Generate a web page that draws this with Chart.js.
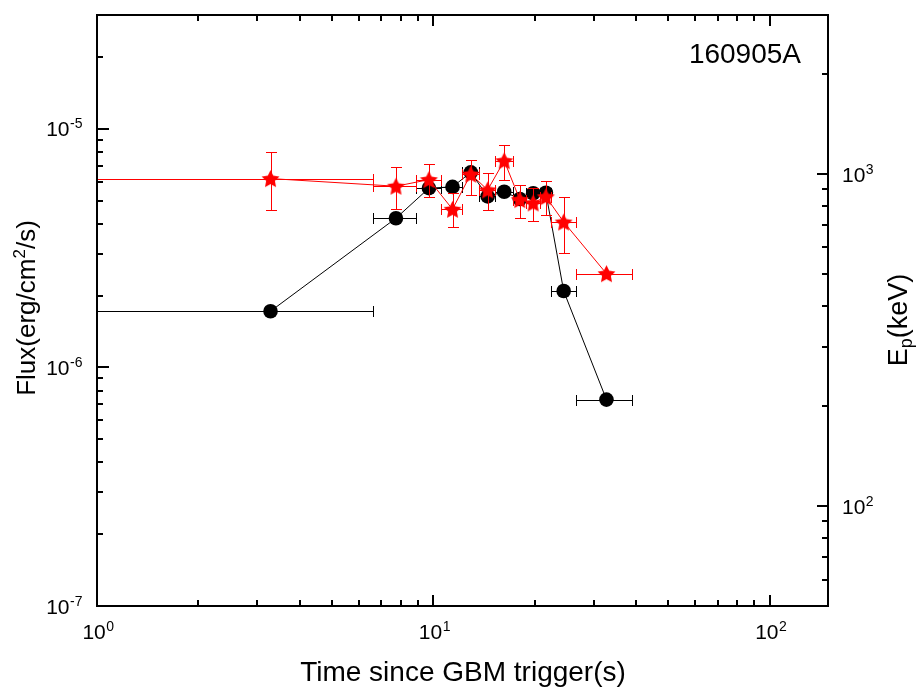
<!DOCTYPE html>
<html><head><meta charset="utf-8">
<script src="https://cdn.jsdelivr.net/npm/chart.js@4.4.0/dist/chart.umd.min.js"></script>
<style>html,body{margin:0;padding:0;background:#fff;}#wrap{width:917px;height:695px;}</style>
</head><body><div id="wrap"><canvas id="c" width="917" height="695"></canvas></div>
<script>
// ---------------- data ----------------
const burstName = '160905A';
const tMid   = [3.28, 7.74, 9.70, 11.4, 12.92, 14.5, 16.24, 18.07, 19.8, 21.6, 24.4, 32.7];
const tStart = [0, 6.6, 8.85, 10.55, 12.2, 13.7, 15.3, 17.2, 18.9, 20.7, 22.4, 26.5];
const tEnd   = [6.6, 8.85, 10.55, 12.2, 13.7, 15.3, 17.2, 18.9, 20.7, 22.4, 26.5, 39.0];
const flux   = [1.72e-6, 4.22e-6, 5.64e-6, 5.71e-6, 6.57e-6, 5.21e-6, 5.45e-6, 5.08e-6, 5.37e-6, 5.40e-6, 2.09e-6, 7.33e-7];
const ep     = [966, 916, 959, 781, 996, 893, 1093, 835, 816, 852, 715, 500];
const epLow  = [775, 784, 851, 690, 864, 777, 959, 735, 722, 752, 577, 500];
const epHigh = [1159, 1047, 1072, 872, 1102, 1007, 1223, 927, 906, 948, 851, 500];
const xTickLabels  = ['10^0', '10^1', '10^2'];
const yTickLabels  = ['10^-7', '10^-6', '10^-5'];
const y1TickLabels = ['10^2', '10^3'];
const xTitle = 'Time since GBM trigger(s)';
const yTitleParts = ['Flux(erg/cm', '2', '/s)'];
const y1TitleParts = ['E', 'p', '(keV)'];

const FONT = '"Liberation Sans", Arial, Helvetica, sans-serif';

function starImage(R, r, color) {
  const s = Math.ceil(R * 2 + 2);
  const c = document.createElement('canvas');
  c.width = s; c.height = s;
  const g = c.getContext('2d');
  g.translate(s / 2, s / 2 + R * 0.09);
  g.beginPath();
  for (let i = 0; i < 10; i++) {
    const rad = i % 2 ? r : R;
    const a = -Math.PI / 2 + i * Math.PI / 5;
    g.lineTo(rad * Math.cos(a), rad * Math.sin(a));
  }
  g.closePath();
  g.fillStyle = color;
  g.fill();
  return c;
}

function logTicks(min, max) {
  const out = [];
  for (let k = Math.floor(Math.log10(min)); k <= Math.ceil(Math.log10(max)); k++) {
    for (let m = 1; m <= 9; m++) {
      const v = Number((m * Math.pow(10, k)).toPrecision(12));
      if (v >= min * 0.9999 && v <= max * 1.0001) out.push({ v, major: m === 1 });
    }
  }
  return out;
}

function parseLabel(s) { const p = s.split('^'); return { base: p[0], sup: p[1] || '', value: Math.pow(10, Number(p[1])) }; }

const baseFont = '21px ' + FONT, supFont = '14px ' + FONT, RAISE = 8;
function supWidth(ctx, l) {
  ctx.font = baseFont; const wb = ctx.measureText(l.base).width;
  ctx.font = supFont; const ws = ctx.measureText(l.sup).width;
  return [wb, ws];
}
function drawSupLabel(ctx, l, x, baseline) {
  const [wb] = supWidth(ctx, l);
  ctx.textAlign = 'left'; ctx.textBaseline = 'alphabetic';
  ctx.font = baseFont; ctx.fillText(l.base, x, baseline);
  ctx.font = supFont; ctx.fillText(l.sup, x + wb + 0.5, baseline - RAISE);
}

const errorBars = {
  id: 'errorBars',
  beforeDatasetDraw(chart, args) {
    const ds = chart.data.datasets[args.index];
    const eb = ds.errorBars;
    if (!eb) return;
    const xs = chart.scales.x, ys = chart.scales[ds.yAxisID];
    const ctx = chart.ctx, a = chart.chartArea;
    ctx.save();
    ctx.beginPath(); ctx.rect(a.left, a.top, a.right - a.left, a.bottom - a.top); ctx.clip();
    ctx.strokeStyle = eb.color; ctx.lineWidth = 1;
    const cap = 5.5;
    const seg = (x0, y0, x1, y1) => { ctx.beginPath(); ctx.moveTo(x0, y0); ctx.lineTo(x1, y1); ctx.stroke(); };
    ds.data.forEach((p, i) => {
      const py = Math.round(ys.getPixelForValue(p.y)) + 0.5;
      const px = Math.round(xs.getPixelForValue(p.x)) + 0.5;
      const lo = eb.xLow[i], hi = eb.xHigh[i];
      const x0 = lo > 0 ? Math.round(xs.getPixelForValue(lo)) + 0.5 : a.left - 5;
      const x1 = Math.round(xs.getPixelForValue(hi)) + 0.5;
      seg(x0, py, x1, py);
      if (lo > 0) seg(x0, py - cap, x0, py + cap);
      seg(x1, py - cap, x1, py + cap);
      if (eb.yLow) {
        const y0 = Math.round(ys.getPixelForValue(eb.yLow[i])) + 0.5;
        const y1 = Math.round(ys.getPixelForValue(eb.yHigh[i])) + 0.5;
        if (Math.abs(y0 - y1) > 2) {
          seg(px, y0, px, y1);
          seg(px - cap, y0, px + cap, y0);
          seg(px - cap, y1, px + cap, y1);
        }
      }
    });
    ctx.restore();
  }
};

const frame = {
  id: 'frame',
  afterDraw(chart) {
    const ctx = chart.ctx, a = chart.chartArea;
    const xs = chart.scales.x, ys = chart.scales.y, y1s = chart.scales.y1;
    ctx.save();
    ctx.strokeStyle = '#000'; ctx.fillStyle = '#000'; ctx.lineWidth = 2;
    ctx.strokeRect(a.left, a.top, a.right - a.left, a.bottom - a.top);
    const seg = (x0, y0, x1, y1) => { ctx.beginPath(); ctx.moveTo(x0, y0); ctx.lineTo(x1, y1); ctx.stroke(); };
    logTicks(xs.min, xs.max).forEach(t => {
      const px = Math.round(xs.getPixelForValue(t.v));
      const len = t.major ? 11 : 6;
      seg(px, a.bottom, px, a.bottom - len);
      seg(px, a.top, px, a.top + len);
    });
    logTicks(ys.min, ys.max).forEach(t => {
      const py = Math.round(ys.getPixelForValue(t.v));
      seg(a.left, py, a.left + (t.major ? 12 : 6), py);
    });
    logTicks(y1s.min, y1s.max).forEach(t => {
      const py = Math.round(y1s.getPixelForValue(t.v));
      seg(a.right, py, a.right - (t.major ? 11 : 6), py);
    });
    // tick labels
    xTickLabels.map(parseLabel).forEach(l => {
      const px = xs.getPixelForValue(l.value);
      const [wb, ws] = supWidth(ctx, l);
      drawSupLabel(ctx, l, px - (wb + ws) / 2 + 1, a.bottom + 33);
    });
    yTickLabels.map(parseLabel).forEach(l => {
      const py = ys.getPixelForValue(l.value);
      const [wb, ws] = supWidth(ctx, l);
      drawSupLabel(ctx, l, a.left - 14 - wb - ws - 1, py + 7.5);
    });
    y1TickLabels.map(parseLabel).forEach(l => {
      const py = y1s.getPixelForValue(l.value);
      drawSupLabel(ctx, l, a.right + 14, py + 8);
    });
    // burst name
    ctx.font = '28px ' + FONT; ctx.textAlign = 'right'; ctx.textBaseline = 'alphabetic';
    ctx.fillText(burstName, 801, 63);
    // x title
    ctx.font = '28px ' + FONT; ctx.textAlign = 'center';
    ctx.fillText(xTitle, 463, 681);
    // left title
    ctx.save();
    ctx.translate(35, 308); ctx.rotate(-Math.PI / 2);
    ctx.font = '26px ' + FONT; const w0 = ctx.measureText(yTitleParts[0]).width, w2 = ctx.measureText(yTitleParts[2]).width;
    ctx.font = '17px ' + FONT; const w1 = ctx.measureText(yTitleParts[1]).width;
    let sx = -(w0 + w1 + w2) / 2;
    ctx.textAlign = 'left';
    ctx.font = '26px ' + FONT; ctx.fillText(yTitleParts[0], sx, 0);
    ctx.font = '17px ' + FONT; ctx.fillText(yTitleParts[1], sx + w0, -10);
    ctx.font = '26px ' + FONT; ctx.fillText(yTitleParts[2], sx + w0 + w1, 0);
    ctx.restore();
    // right title
    ctx.save();
    ctx.translate(907, 320); ctx.rotate(-Math.PI / 2);
    ctx.font = '27px ' + FONT; const v0 = ctx.measureText(y1TitleParts[0]).width, v2 = ctx.measureText(y1TitleParts[2]).width;
    ctx.font = '18px ' + FONT; const v1 = ctx.measureText(y1TitleParts[1]).width;
    sx = -(v0 + v1 + v2) / 2;
    ctx.textAlign = 'left';
    ctx.font = '27px ' + FONT; ctx.fillText(y1TitleParts[0], sx, 0);
    ctx.font = '18px ' + FONT; ctx.fillText(y1TitleParts[1], sx + v0, 5);
    ctx.font = '27px ' + FONT; ctx.fillText(y1TitleParts[2], sx + v0 + v1, 0);
    ctx.restore();
    ctx.restore();
  }
};

const star = starImage(9.4, 4.6, '#ff0000');

new Chart(document.getElementById('c'), {
  type: 'scatter',
  data: {
    datasets: [
      {
        label: 'Ep',
        data: tMid.map((t, i) => ({ x: t, y: ep[i] })),
        yAxisID: 'y1',
        showLine: true,
        borderColor: '#ff0000',
        borderWidth: 1,
        pointStyle: star,
        pointRadius: 9,
        order: 1,
        errorBars: { color: '#ff0000', xLow: tStart, xHigh: tEnd, yLow: epLow, yHigh: epHigh }
      },
      {
        label: 'Flux',
        data: tMid.map((t, i) => ({ x: t, y: flux[i] })),
        yAxisID: 'y',
        showLine: true,
        borderColor: '#000000',
        borderWidth: 1,
        pointStyle: 'circle',
        pointRadius: 7.3,
        pointBackgroundColor: '#000000',
        pointBorderColor: '#000000',
        pointBorderWidth: 0,
        order: 2,
        errorBars: { color: '#000000', xLow: tStart, xHigh: tEnd }
      }
    ]
  },
  options: {
    responsive: false,
    animation: false,
    devicePixelRatio: 1,
    layout: { padding: { top: 15, left: 0, right: 0, bottom: 0 } },
    plugins: { legend: { display: false }, tooltip: { enabled: false } },
    scales: {
      x: { type: 'logarithmic', min: 1, max: 149, position: 'bottom',
           grid: { display: false }, border: { display: false }, ticks: { display: false },
           afterFit(s) { s.height = 89; } },
      y: { type: 'logarithmic', min: 1e-7, max: 3e-5, position: 'left',
           grid: { display: false }, border: { display: false }, ticks: { display: false },
           afterFit(s) { s.width = 97; } },
      y1: { type: 'logarithmic', min: 50, max: 3000, position: 'right',
           grid: { display: false }, border: { display: false }, ticks: { display: false },
           afterFit(s) { s.width = 89; } }
    }
  },
  plugins: [errorBars, frame]
});
</script>
</body></html>
